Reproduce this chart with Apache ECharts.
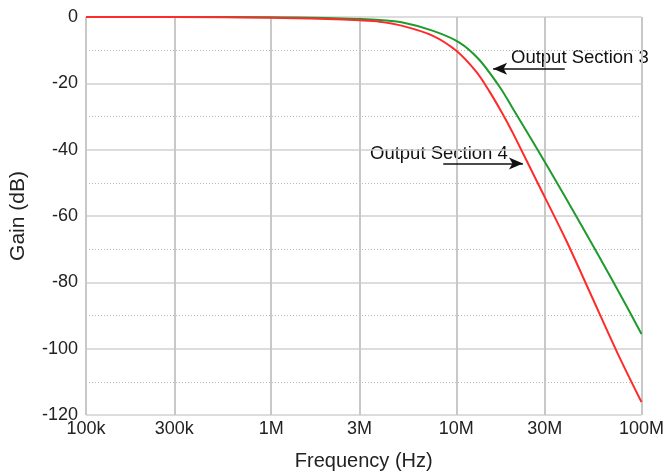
<!DOCTYPE html>
<html>
<head>
<meta charset="utf-8">
<script src="https://cdn.jsdelivr.net/npm/echarts@6/dist/echarts.min.js"></script>
<style>
html, body { margin: 0; padding: 0; background: #fff; }
#chart { width: 667px; height: 476px; }
</style>
</head>
<body>
<div id="chart"></div>
<script>
// 频率刻度 (Hz)
const xTicks = [1e5, 3e5, 1e6, 3e6, 1e7, 3e7, 1e8];
const xTickNames = { 1e5: '100k', 3e5: '300k', 1e6: '1M', 3e6: '3M', 1e7: '10M', 3e7: '30M', 1e8: '100M' };

// Output Section 3 (green) : [Hz, dB]
const section3 = [
    [1e5, 0], [3e5, 0], [1e6, -0.1], [2e6, -0.3], [3e6, -0.6], [3.85e6, -0.9],
    [5.06e6, -1.6], [7.43e6, -4.1], [10.4e6, -7.7], [13.3e6, -12.9], [17.3e6, -21.4],
    [20e6, -27.2], [25.9e6, -37.6], [38.6e6, -54.1], [56.6e6, -70.4], [82e6, -86.6],
    [1e8, -95.6]
];

// Output Section 4 (red) : [Hz, dB]
const section4 = [
    [1e5, 0], [3e5, 0], [1e6, -0.2], [2e6, -0.6], [3e6, -1.0], [3.85e6, -1.4],
    [5.06e6, -2.6], [7.43e6, -5.6], [10e6, -10.2], [12.8e6, -16.5], [15e6, -22.2],
    [17.7e6, -29.0], [20e6, -34.5], [27.6e6, -50.2], [39e6, -67.1], [53.8e6, -84.2],
    [74.3e6, -101.4], [1e8, -116.1]
];

// 注释箭头 [尾, 头]
const arrow3 = [[38.5e6, -15.6], [15.8e6, -15.6]];
const arrow4 = [[8.5e6, -44.2], [22.9e6, -44.2]];

const font = 'Liberation Sans, Arial, sans-serif';
const chart = echarts.init(document.getElementById('chart'));

function arrowLine(pts) {
    return {
        silent: true,
        symbol: ['none', 'arrow'],
        symbolSize: [9, 14],
        lineStyle: { color: '#111', width: 1.5, type: 'solid' },
        label: { show: false },
        data: [[{ coord: pts[0] }, { coord: pts[1] }]]
    };
}

chart.setOption({
    animation: false,
    grid: { left: 85, right: 24, top: 17, bottom: 60 },
    xAxis: {
        type: 'log',
        logBase: 10,
        min: 1e5,
        max: 1e8,
        name: 'Frequency (Hz)',
        nameLocation: 'middle',
        nameGap: 36,
        nameTextStyle: { fontSize: 20, color: '#222', fontFamily: font },
        axisLine: { show: false },
        axisTick: { show: false, customValues: xTicks },
        axisLabel: {
            customValues: xTicks,
            fontSize: 18, color: '#222', fontFamily: font, margin: 5,
            formatter: v => xTickNames[v] || ''
        },
        splitLine: { show: true, lineStyle: { color: '#c8c8c8', width: 2 } }
    },
    yAxis: {
        type: 'value',
        min: -120,
        max: 0,
        interval: 20,
        name: 'Gain (dB)',
        nameLocation: 'middle',
        nameGap: 57,
        nameTextStyle: { fontSize: 21, color: '#222', fontFamily: font },
        axisLine: { show: false },
        axisTick: { show: false },
        axisLabel: { fontSize: 18, color: '#222', fontFamily: font, margin: 8 },
        splitLine: { lineStyle: { color: '#d0d0d0', width: 1.5 } },
        minorTick: { show: false, splitNumber: 2 },
        minorSplitLine: { show: true, lineStyle: { color: '#b8b8b8', width: 1, type: [1, 2] } }
    },
    series: [
        {
            name: 'Output Section 3',
            type: 'line',
            data: section3,
            smooth: 0.3,
            showSymbol: false,
            lineStyle: { color: '#1f9a2c', width: 2 },
            markLine: arrowLine(arrow3),
            z: 3
        },
        {
            name: 'Output Section 4',
            type: 'line',
            data: section4,
            smooth: 0.3,
            showSymbol: false,
            lineStyle: { color: '#ff2b2b', width: 2 },
            markLine: arrowLine(arrow4),
            z: 4
        }
    ],
    graphic: [
        { type: 'text', left: 511, top: 48, style: { text: 'Output Section 3', fontSize: 18.5, fill: '#111', fontFamily: font } },
        { type: 'text', left: 370, top: 144, style: { text: 'Output Section 4', fontSize: 18.5, fill: '#111', fontFamily: font } }
    ]
});
</script>
</body>
</html>
